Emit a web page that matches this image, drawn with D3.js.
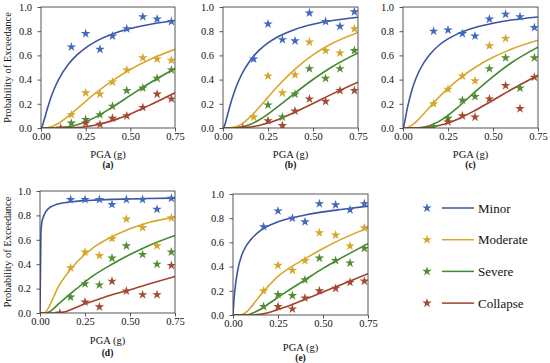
<!DOCTYPE html>
<html lang="en">
<head>
<meta charset="utf-8">
<title>Fragility curves</title>
<script src="https://cdn.jsdelivr.net/npm/d3@7"></script>
<style>
body { margin: 0; background: #fff; }
svg { font-family: "Liberation Serif", "Times New Roman", Times, serif; }
.frame { fill: none; stroke: #444; stroke-width: 0.9px; }
.axis path { display: none; }
.axis line { stroke: #444; stroke-width: 0.9px; }
.axis text { font-size: 10.5px; fill: #111; font-family: "Liberation Serif", "Times New Roman", serif; }
.fit { fill: none; stroke-width: 1.6px; }
.title { font-size: 10.5px; fill: #111; }
.plabel { font-size: 9.5px; font-weight: bold; fill: #111; }
.legend text { font-size: 13px; fill: #111; }
</style>
</head>
<body>
<div id="chart"></div>
<script>
"use strict";

// damage states
var states = ["Minor", "Moderate", "Severe", "Collapse"];
var panelLabels = ["(a)", "(b)", "(c)", "(d)", "(e)"];
var xTicks = [0, 0.25, 0.5, 0.75];
var yTicks = [0, 0.2, 0.4, 0.6, 0.8, 1.0];

// PGA (g) of the observed points (stars)
var obsPGA = [0.11, 0.17, 0.25, 0.33, 0.40, 0.48, 0.57, 0.65, 0.73];

// observed probability, one row per state: minor, moderate, severe, collapse
var obsA = [
  [null, 0.67, 0.78, 0.65, 0.76, 0.82, 0.92, 0.90, 0.88],
  [null, 0.11, 0.29, 0.28, 0.38, 0.48, 0.58, 0.57, 0.56],
  [null, 0.04, 0.07, 0.11, 0.18, 0.31, 0.33, 0.41, 0.48],
  [0,    null, 0.04, 0.03, 0.08, 0.10, 0.17, 0.28, 0.24]
];
var obsB = [
  [null, 0.57, 0.86, 0.73, 0.72, 0.95, 0.88, 0.84, 0.96],
  [null, 0.09, 0.43, 0.29, 0.44, 0.71, 0.64, 0.62, 0.82],
  [null, null, 0.19, 0.09, 0.28, 0.49, 0.41, 0.49, 0.64],
  [0,    null, 0.06, 0.02, 0.14, 0.24, 0.22, 0.31, 0.31]
];
var obsC = [
  [null, 0.80, 0.81, 0.78, 0.76, 0.90, 0.94, 0.92, 0.83],
  [null, 0.20, 0.32, 0.43, 0.39, 0.68, 0.74, null, null],
  [null, 0.01, 0.08, 0.23, 0.26, 0.49, 0.58, 0.33, 0.58],
  [null, null, 0.05, 0.10, 0.09, 0.24, 0.35, 0.16, 0.42]
];
var obsD = [
  [null, 0.93, 0.93, 0.93, 0.89, 0.93, 0.93, 0.85, 0.94],
  [null, 0.37, 0.50, 0.47, 0.61, 0.77, 0.70, 0.55, 0.78],
  [null, 0.13, 0.24, 0.23, 0.45, 0.55, 0.48, 0.40, 0.50],
  [0,    null, 0.09, 0.05, 0.26, 0.18, 0.15, 0.15, 0.39]
];
var obsE = [
  [null, 0.73, 0.86, 0.80, 0.77, 0.92, 0.91, 0.87, 0.92],
  [null, 0.20, 0.41, 0.37, 0.45, 0.68, 0.66, 0.57, 0.72],
  [null, 0.07, 0.17, 0.16, 0.29, 0.47, 0.45, 0.43, 0.55],
  [null, null, 0.07, 0.05, 0.14, 0.20, 0.22, 0.27, 0.28]
];

// PGA (g) where the fitted curves were read
var curvePGA = [0, 0.005, 0.01, 0.025, 0.05, 0.075, 0.1, 0.15, 0.2, 0.25, 0.3, 0.4, 0.5, 0.6, 0.75];

var fitA = [
  [0, 0.008, 0.028, 0.106, 0.228, 0.326, 0.404, 0.52, 0.602, 0.663, 0.71, 0.777, 0.822, 0.854, 0.888],
  [0, 0, 0, 0, 0.007, 0.021, 0.041, 0.095, 0.157, 0.22, 0.281, 0.391, 0.484, 0.56, 0.65],
  [0, 0, 0, 0, 0, 0, 0.001, 0.009, 0.025, 0.051, 0.086, 0.173, 0.269, 0.364, 0.492],
  [0, 0, 0, 0, 0, 0, 0, 0.001, 0.004, 0.011, 0.023, 0.061, 0.116, 0.183, 0.291]
];
var fitB = [
  [0, 0.007, 0.026, 0.108, 0.24, 0.347, 0.432, 0.556, 0.641, 0.703, 0.75, 0.815, 0.857, 0.886, 0.916],
  [0, 0, 0, 0, 0.003, 0.012, 0.03, 0.09, 0.169, 0.255, 0.339, 0.487, 0.605, 0.694, 0.79],
  [0, 0, 0, 0, 0, 0.002, 0.007, 0.029, 0.066, 0.115, 0.171, 0.289, 0.401, 0.5, 0.62],
  [0, 0, 0, 0, 0, 0, 0.002, 0.008, 0.021, 0.041, 0.067, 0.131, 0.202, 0.276, 0.379]
];
var fitC = [
  [0, 0.019, 0.056, 0.17, 0.316, 0.421, 0.5, 0.61, 0.684, 0.736, 0.776, 0.83, 0.866, 0.892, 0.918],
  [0, 0, 0, 0.004, 0.024, 0.055, 0.093, 0.175, 0.255, 0.327, 0.392, 0.5, 0.584, 0.65, 0.725],
  [0, 0, 0, 0, 0, 0, 0.004, 0.021, 0.055, 0.105, 0.165, 0.298, 0.425, 0.537, 0.668],
  [0, 0, 0, 0, 0, 0, 0.001, 0.007, 0.02, 0.042, 0.071, 0.145, 0.229, 0.316, 0.436]
];
var fitD = [
  [0, 0.66, 0.74, 0.81, 0.86, 0.88, 0.893, 0.907, 0.915, 0.921, 0.925, 0.931, 0.935, 0.938, 0.942],
  [0, 0, 0, 0.002, 0.05, 0.13, 0.21, 0.32, 0.41, 0.48, 0.54, 0.625, 0.69, 0.74, 0.786],
  [0, 0, 0, 0, 0.008, 0.035, 0.07, 0.135, 0.195, 0.255, 0.31, 0.4, 0.48, 0.55, 0.636],
  [0, 0, 0, 0, 0, 0, 0.001, 0.015, 0.045, 0.075, 0.1, 0.15, 0.19, 0.235, 0.3]
];
var fitE = [
  [0, 0.12, 0.2, 0.36, 0.5, 0.575, 0.625, 0.695, 0.74, 0.77, 0.793, 0.826, 0.852, 0.872, 0.90],
  [0, 0, 0, 0, 0.003, 0.025, 0.065, 0.16, 0.245, 0.32, 0.375, 0.465, 0.55, 0.625, 0.72],
  [0, 0, 0, 0, 0, 0, 0.01, 0.045, 0.095, 0.145, 0.195, 0.29, 0.385, 0.47, 0.59],
  [0, 0, 0, 0, 0, 0, 0, 0.005, 0.02, 0.045, 0.07, 0.13, 0.19, 0.25, 0.342]
];

var panelObs = [obsA, obsB, obsC, obsD, obsE];
var panelFit = [fitA, fitB, fitC, fitD, fitE];

var lineColors = ["#3b54a3", "#d9a82b", "#3f8a2c", "#a04228"];
var starColors = ["#4169bd", "#d6a62a", "#548c33", "#a44a30"];

// frame of each small plot, in px
var frames = [
  {x0: 41,  x1: 175, y0: 7,   y1: 128, titleY: 157.5, labelY: 167.5, ylab: true},
  {x0: 223, x1: 358, y0: 7,   y1: 128, titleY: 157.5, labelY: 167.5, ylab: false},
  {x0: 403, x1: 538, y0: 7,   y1: 128, titleY: 157.5, labelY: 167.5, ylab: false},
  {x0: 40,  x1: 175, y0: 191, y1: 313, titleY: 343.5, labelY: 355.5, ylab: true},
  {x0: 233, x1: 368, y0: 194, y1: 315, titleY: 350.5, labelY: 361, ylab: false}
];

var svg = d3.select("#chart").append("svg")
    .attr("width", 550)
    .attr("height", 363);

svg.append("rect").attr("width", 550).attr("height", 363).attr("fill", "#fff");

var star = d3.symbol().type(d3.symbolStar).size(28);

frames.forEach(function(f, i) {
  var x = d3.scaleLinear().domain([0, 0.75]).range([f.x0, f.x1]);
  var y = d3.scaleLinear().domain([0, 1]).range([f.y1, f.y0]);

  svg.append("clipPath").attr("id", "clip" + i)
    .append("rect")
    .attr("x", f.x0).attr("y", f.y0)
    .attr("width", f.x1 - f.x0).attr("height", f.y1 - f.y0);

  var g = svg.append("g");
  var plot = g.append("g").attr("clip-path", "url(#clip" + i + ")");

  var line = d3.line()
      .x(function(d) { return x(d[0]); })
      .y(function(d) { return y(d[1]); })
      .curve(d3.curveMonotoneX);

  panelFit[i].forEach(function(vals, s) {
    plot.append("path")
      .datum(curvePGA.map(function(p, k) { return [p, vals[k]]; }))
      .attr("class", "fit")
      .attr("stroke", lineColors[s])
      .attr("d", line);
  });

  panelObs[i].forEach(function(vals, s) {
    var pts = obsPGA.map(function(p, k) { return [p, vals[k]]; })
        .filter(function(d) { return d[1] !== null; });
    plot.selectAll(null)
      .data(pts)
      .enter().append("path")
      .attr("d", star)
      .attr("fill", starColors[s])
      .attr("transform", function(d) { return "translate(" + x(d[0]) + "," + y(d[1]) + ")"; });
  });

  g.append("g")
    .attr("class", "axis")
    .attr("transform", "translate(0," + f.y1 + ")")
    .call(d3.axisBottom(x).tickValues(xTicks).tickFormat(d3.format(".2f")).tickSize(3.5).tickPadding(1.5));

  g.append("g")
    .attr("class", "axis")
    .attr("transform", "translate(" + f.x0 + ",0)")
    .call(d3.axisLeft(y).tickValues(yTicks).tickFormat(d3.format(".1f")).tickSize(3.5).tickPadding(5.5));

  g.append("rect")
    .attr("class", "frame")
    .attr("x", f.x0).attr("y", f.y0)
    .attr("width", f.x1 - f.x0).attr("height", f.y1 - f.y0);

  g.append("text")
    .attr("class", "title")
    .attr("x", (f.x0 + f.x1) / 2)
    .attr("y", f.titleY)
    .attr("text-anchor", "middle")
    .text("PGA (g)");

  g.append("text")
    .attr("class", "plabel")
    .attr("x", (f.x0 + f.x1) / 2)
    .attr("y", f.labelY)
    .attr("text-anchor", "middle")
    .text(panelLabels[i]);

  if (f.ylab) {
    g.append("text")
      .attr("class", "title")
      .attr("transform", "translate(11," + (f.y0 + f.y1) / 2 + ") rotate(-90)")
      .attr("text-anchor", "middle")
      .text("Probability of Exceedance");
  }
});

// legend
var legend = svg.append("g").attr("class", "legend");
states.forEach(function(name, s) {
  var ly = 208 + s * 31.7;
  legend.append("path")
    .attr("d", star)
    .attr("fill", starColors[s])
    .attr("transform", "translate(427," + ly + ")");
  legend.append("line")
    .attr("x1", 442).attr("x2", 474)
    .attr("y1", ly).attr("y2", ly)
    .attr("stroke", lineColors[s])
    .attr("stroke-width", 1.5);
  legend.append("text")
    .attr("x", 478)
    .attr("y", ly + 4.5)
    .text(name);
});
</script>
</body>
</html>
